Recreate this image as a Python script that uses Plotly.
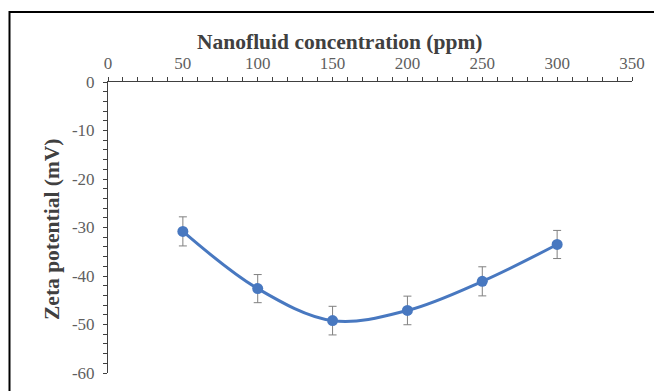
import plotly.graph_objects as go

# Data
concentration = [50, 100, 150, 200, 250, 300]          # ppm
zeta = [-30.8, -42.6, -49.2, -47.1, -41.1, -33.5]       # mV
zeta_err = [3.0, 2.9, 2.95, 2.95, 3.0, 2.9]             # mV

x_tickvals = [0, 50, 100, 150, 200, 250, 300, 350]
x_ticktext = ["0", "50", "100", "150", "200", "250", "300", "350"]
y_tickvals = [0, -10, -20, -30, -40, -50, -60]
y_ticktext = ["0", "-10", "-20", "-30", "-40", "-50", "-60"]

x_title = "Nanofluid concentration (ppm)"
y_title = "Zeta potential (mV)"

W, H = 654, 391
L, R, T, B = 108, 22, 82, 18
pw, ph = W - L - R, H - T - B

def px_x(p):
    return (p - L) / pw

def px_y(p):
    return (H - B - p) / ph

tick_font = dict(family="Liberation Serif", size=17, color="#5f5f5f")
title_font = dict(family="Liberation Serif", size=21.5, color="#404040")
axis_col = "#404040"

fig = go.Figure()
fig.add_trace(go.Scatter(
    x=concentration, y=zeta,
    mode="lines+markers",
    line=dict(color="#4878C0", width=3, shape="spline", smoothing=1),
    marker=dict(color="#4878C0", size=11),
    error_y=dict(type="data", array=zeta_err, visible=True,
                 color="#808080", thickness=1, width=4),
    showlegend=False,
    cliponaxis=False,
))

fig.update_layout(
    width=W, height=H,
    margin=dict(l=L, r=R, t=T, b=B, autoexpand=False),
    paper_bgcolor="white", plot_bgcolor="white",
    xaxis=dict(
        side="top", range=[0, 350],
        tickmode="array", tickvals=x_tickvals, ticktext=x_ticktext,
        showgrid=False, zeroline=False, automargin=False,
        showline=True, linecolor=axis_col, linewidth=1,
        ticks="outside", ticklen=4, tickcolor=axis_col, tickwidth=1,
        minor=dict(dtick=10, tick0=0, ticks="outside", ticklen=4, tickcolor=axis_col, tickwidth=1, showgrid=False),
        tickfont=tick_font, ticklabelstandoff=1,
    ),
    yaxis=dict(
        range=[-60, 0],
        tickmode="array", tickvals=y_tickvals, ticktext=y_ticktext,
        showgrid=False, zeroline=False, automargin=False,
        showline=True, linecolor=axis_col, linewidth=1,
        ticks="outside", ticklen=4, tickcolor=axis_col, tickwidth=1,
        minor=dict(dtick=2, tick0=0, ticks="outside", ticklen=4, tickcolor=axis_col, tickwidth=1, showgrid=False),
        tickfont=tick_font, ticklabelstandoff=5,
    ),
    annotations=[
        dict(text="<b>" + x_title + "</b>", xref="paper", yref="paper",
             x=px_x(339), y=px_y(42), xanchor="center", yanchor="middle",
             showarrow=False, font=title_font),
        dict(text="<b>" + y_title + "</b>", xref="paper", yref="paper",
             x=px_x(52), y=px_y(229), xanchor="center", yanchor="middle",
             textangle=-90, showarrow=False, font=title_font),
    ],
    shapes=[
        dict(type="rect", xref="paper", yref="paper",
             x0=px_x(9.5), x1=px_x(680), y0=px_y(410), y1=px_y(12),
             line=dict(color="black", width=2), fillcolor="rgba(0,0,0,0)", layer="below"),
    ],
)

fig.write_html(
    "out.html",
    config={"displayModeBar": False},
    post_script="document.body.style.margin='0';document.body.style.padding='0';",
)
